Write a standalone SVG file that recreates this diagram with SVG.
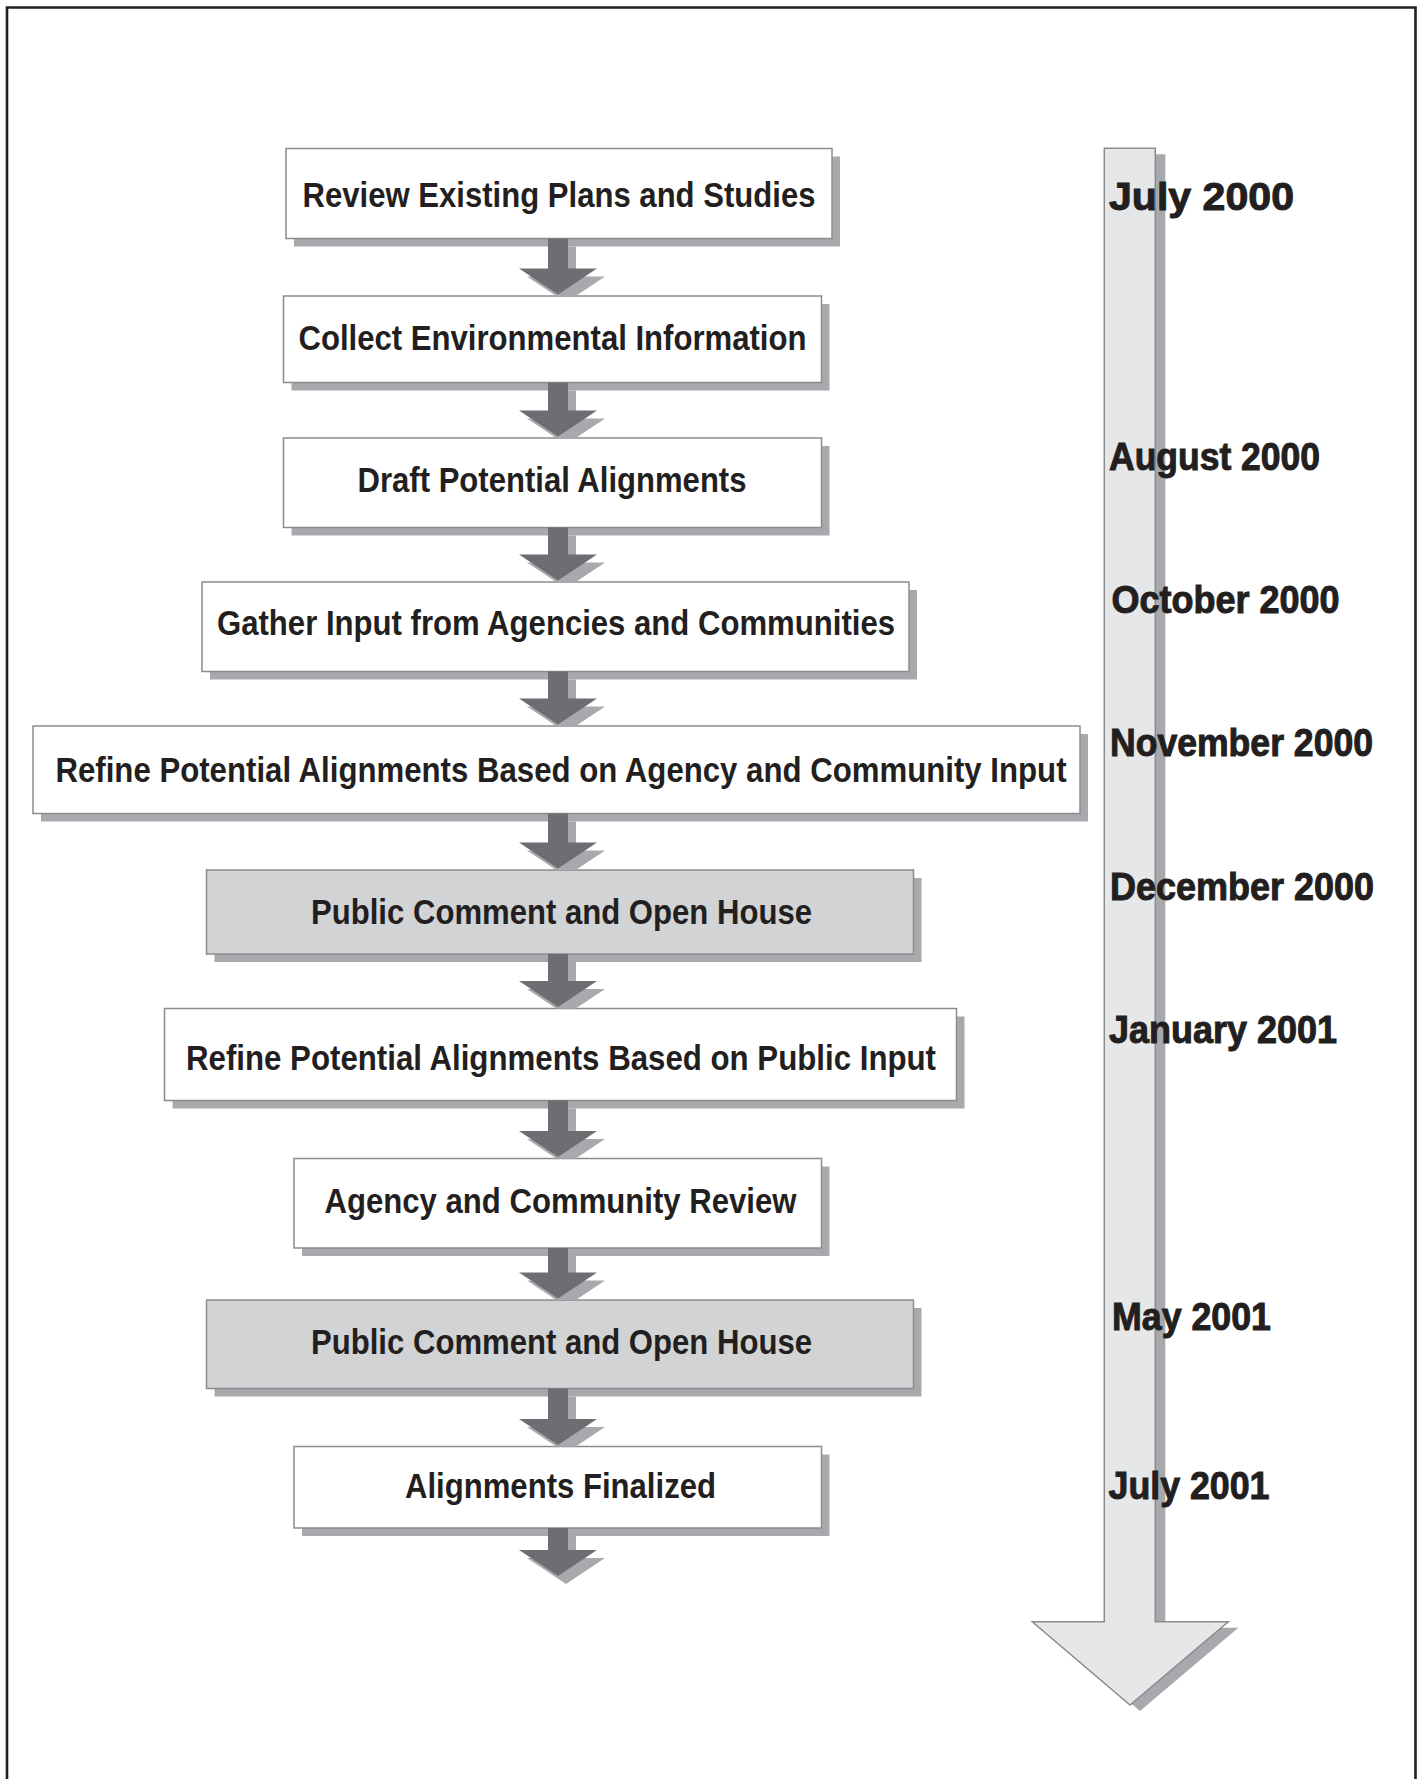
<svg xmlns="http://www.w3.org/2000/svg" width="1417" height="1779" viewBox="0 0 1417 1779">
<style>
.shadow{fill:#a7a9ac}
.box{fill:#ffffff;stroke:#8a8c8e;stroke-width:1.5}
.box.gray{fill:#d1d3d4}
.lbl{font-family:"Liberation Sans",Arial,sans-serif;font-weight:bold;font-size:35px;fill:#231f20;text-anchor:middle}
.date{font-family:"Liberation Sans",Arial,sans-serif;font-weight:bold;font-size:39px;fill:#231f20;stroke:#231f20;stroke-width:1}
.arrow{fill:#6d6e71}
.tl{fill:#e6e7e8;stroke:#8a8c8e;stroke-width:1.5}
</style>
<rect width="1417" height="1779" fill="#ffffff"/>
<path d="M7,1785 V7.5 H1415.5 V1785" fill="none" stroke="#231f20" stroke-width="2.6"/>

<g id="timeline">
  <polygon class="shadow" points="1114.3,154.3 1165.3,154.3 1165.3,1627.7 1238.3,1627.7 1140,1711 1042.3,1627.7 1114.3,1627.7"/>
  <polygon class="tl" points="1104.3,148.3 1155.3,148.3 1155.3,1621.7 1228.3,1621.7 1130,1705 1032.3,1621.7 1104.3,1621.7"/>
</g>

<g id="dates">
  <text class="date" x="1109" y="210" textLength="185" lengthAdjust="spacingAndGlyphs">July 2000</text>
  <text class="date" x="1109" y="470" textLength="211" lengthAdjust="spacingAndGlyphs">August 2000</text>
  <text class="date" x="1111.5" y="612.5" textLength="228" lengthAdjust="spacingAndGlyphs">October 2000</text>
  <text class="date" x="1110" y="756" textLength="263" lengthAdjust="spacingAndGlyphs">November 2000</text>
  <text class="date" x="1110" y="900" textLength="264" lengthAdjust="spacingAndGlyphs">December 2000</text>
  <text class="date" x="1109" y="1042.5" textLength="228" lengthAdjust="spacingAndGlyphs">January 2001</text>
  <text class="date" x="1112" y="1329.5" textLength="159" lengthAdjust="spacingAndGlyphs">May 2001</text>
  <text class="date" x="1108.5" y="1498.5" textLength="161" lengthAdjust="spacingAndGlyphs">July 2001</text>
</g>

<g id="n1">
  <rect class="shadow" x="294" y="156.5" width="546" height="90"/>
  <rect class="box" x="286" y="148.5" width="546" height="90"/>
  <text class="lbl" x="559" y="207" textLength="513" lengthAdjust="spacingAndGlyphs">Review Existing Plans and Studies</text>
</g>
<g id="n2">
  <rect class="shadow" x="291.5" y="304" width="538" height="86.5"/>
  <rect class="box" x="283.5" y="296" width="538" height="86.5"/>
  <text class="lbl" x="552.5" y="349.5" textLength="508" lengthAdjust="spacingAndGlyphs">Collect Environmental Information</text>
</g>
<g id="n3">
  <rect class="shadow" x="291.5" y="446" width="538" height="89.5"/>
  <rect class="box" x="283.5" y="438" width="538" height="89.5"/>
  <text class="lbl" x="552" y="491.5" textLength="389" lengthAdjust="spacingAndGlyphs">Draft Potential Alignments</text>
</g>
<g id="n4">
  <rect class="shadow" x="210" y="590" width="707" height="89.5"/>
  <rect class="box" x="202" y="582" width="707" height="89.5"/>
  <text class="lbl" x="556" y="635" textLength="678" lengthAdjust="spacingAndGlyphs">Gather Input from Agencies and Communities</text>
</g>
<g id="n5">
  <rect class="shadow" x="41" y="734" width="1047" height="87.5"/>
  <rect class="box" x="33" y="726" width="1047" height="87.5"/>
  <text class="lbl" transform="translate(561,781.5) scale(0.88,1)" x="0" y="0" textLength="1149" lengthAdjust="spacingAndGlyphs">Refine Potential Alignments Based on Agency and Community Input</text>
</g>
<g id="n6">
  <rect class="shadow" x="214.5" y="878" width="707" height="84"/>
  <rect class="box gray" x="206.5" y="870" width="707" height="84"/>
  <text class="lbl" x="561.5" y="924" textLength="501" lengthAdjust="spacingAndGlyphs">Public Comment and Open House</text>
</g>
<g id="n7">
  <rect class="shadow" x="172.5" y="1016.5" width="792" height="92"/>
  <rect class="box" x="164.5" y="1008.5" width="792" height="92"/>
  <text class="lbl" x="561" y="1070" textLength="750" lengthAdjust="spacingAndGlyphs">Refine Potential Alignments Based on Public Input</text>
</g>
<g id="n8">
  <rect class="shadow" x="302" y="1166.5" width="527.5" height="89.5"/>
  <rect class="box" x="294" y="1158.5" width="527.5" height="89.5"/>
  <text class="lbl" x="560.5" y="1212.5" textLength="472" lengthAdjust="spacingAndGlyphs">Agency and Community Review</text>
</g>
<g id="n9">
  <rect class="shadow" x="214.5" y="1308" width="707" height="88.5"/>
  <rect class="box gray" x="206.5" y="1300" width="707" height="88.5"/>
  <text class="lbl" x="561.5" y="1354" textLength="501" lengthAdjust="spacingAndGlyphs">Public Comment and Open House</text>
</g>
<g id="n10">
  <rect class="shadow" x="302" y="1454.5" width="527.5" height="81.5"/>
  <rect class="box" x="294" y="1446.5" width="527.5" height="81.5"/>
  <text class="lbl" x="560.5" y="1497.5" textLength="311" lengthAdjust="spacingAndGlyphs">Alignments Finalized</text>
</g>

<g id="connectors">
  <polygon class="shadow" points="556,246.5 576,246.5 576,276.5 605,276.5 575.75,296 556.25,296 527,276.5 556,276.5"/>
  <polygon class="arrow" points="548,238.5 568,238.5 568,268.5 597,268.5 558,294.5 519,268.5 548,268.5"/>
  <polygon class="shadow" points="556,390.5 576,390.5 576,418.5 605,418.5 575.75,438 556.25,438 527,418.5 556,418.5"/>
  <polygon class="arrow" points="548,382.5 568,382.5 568,410.5 597,410.5 558,436.5 519,410.5 548,410.5"/>
  <polygon class="shadow" points="556,535.5 576,535.5 576,562.5 605,562.5 575.75,582 556.25,582 527,562.5 556,562.5"/>
  <polygon class="arrow" points="548,527.5 568,527.5 568,554.5 597,554.5 558,580.5 519,554.5 548,554.5"/>
  <polygon class="shadow" points="556,679.5 576,679.5 576,706.5 605,706.5 575.75,726 556.25,726 527,706.5 556,706.5"/>
  <polygon class="arrow" points="548,671.5 568,671.5 568,698.5 597,698.5 558,724.5 519,698.5 548,698.5"/>
  <polygon class="shadow" points="556,821.5 576,821.5 576,850.5 605,850.5 575.75,870 556.25,870 527,850.5 556,850.5"/>
  <polygon class="arrow" points="548,813.5 568,813.5 568,842.5 597,842.5 558,868.5 519,842.5 548,842.5"/>
  <polygon class="shadow" points="556,962 576,962 576,989 605,989 575.75,1008.5 556.25,1008.5 527,989 556,989"/>
  <polygon class="arrow" points="548,954 568,954 568,981 597,981 558,1007 519,981 548,981"/>
  <polygon class="shadow" points="556,1108.5 576,1108.5 576,1139 605,1139 575.75,1158.5 556.25,1158.5 527,1139 556,1139"/>
  <polygon class="arrow" points="548,1100.5 568,1100.5 568,1131 597,1131 558,1157 519,1131 548,1131"/>
  <polygon class="shadow" points="556,1256 576,1256 576,1280.5 605,1280.5 575.75,1300 556.25,1300 527,1280.5 556,1280.5"/>
  <polygon class="arrow" points="548,1248 568,1248 568,1272.5 597,1272.5 558,1298.5 519,1272.5 548,1272.5"/>
  <polygon class="shadow" points="556,1396.5 576,1396.5 576,1427 605,1427 575.75,1446.5 556.25,1446.5 527,1427 556,1427"/>
  <polygon class="arrow" points="548,1388.5 568,1388.5 568,1419 597,1419 558,1445 519,1419 548,1419"/>
  <polygon class="shadow" points="556,1536 576,1536 576,1558 605,1558 566,1584 527,1558 556,1558"/>
  <polygon class="arrow" points="548,1528 568,1528 568,1550 597,1550 558,1576 519,1550 548,1550"/>
</g>
</svg>
